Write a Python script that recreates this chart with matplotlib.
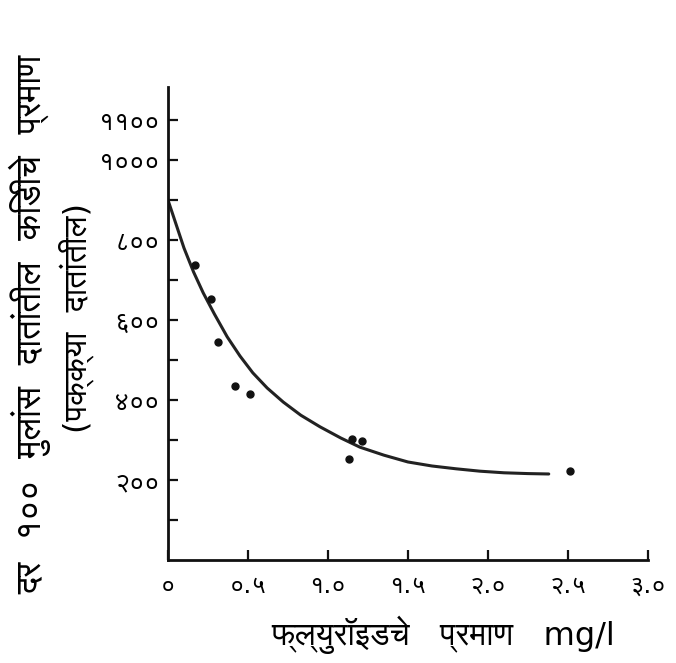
#!/usr/bin/env python3

import matplotlib
matplotlib.use('Agg')
from matplotlib import pyplot as plt
from matplotlib import font_manager
from matplotlib.ft2font import FT2Font

# courbe tracée à la main
curve_x = [0, 0.05, 0.1, 0.16, 0.22, 0.29, 0.37, 0.45, 0.53, 0.62, 0.72, 0.83,
           0.95, 1.08, 1.2, 1.35, 1.5, 1.65, 1.8, 1.95, 2.1, 2.25, 2.38]
curve_y = [900, 840, 780, 720, 668, 615, 558, 510, 468, 430, 395, 362,
           333, 305, 282, 262, 245, 235, 228, 222, 218, 216, 215]

# points mesurés
pts_x = [0.17, 0.27, 0.31, 0.42, 0.51, 1.13, 1.15, 1.21, 2.51]
pts_y = [737, 652, 545, 435, 415, 252, 302, 297, 222]

xticks = [0, 0.5, 1.0, 1.5, 2.0, 2.5, 3.0]
xtick_labels = ['०', '०.५', '१.०', '१.५', '२.०', '२.५', '३.०']
yticks = [200, 400, 600, 800, 1000, 1100]
ytick_labels = ['२००', '४००', '६००', '८००', '१०००', '११००']

xlabel = 'फ्ल्युरॉइडचे   प्रमाण   mg/l'
ylabel1 = 'दर  १००  मुलांस  दातांतील  किडीचे  प्रमाण'
ylabel2 = '(पक्क्या  दातांतील)'


def find_families(ch):
	found = []
	for f in font_manager.fontManager.ttflist:
		try:
			if ord(ch) in FT2Font(f.fname).get_charmap() and f.name not in found:
				found.append(f.name)
		except Exception:
			pass
	# une police sans empattement de préférence
	found.sort(key=lambda n: ('Mono' in n, 'Sans' not in n))
	return found

deva = find_families('क')
plt.rcParams['font.family'] = ['DejaVu Sans'] + deva[:1]

fig = plt.figure(figsize=(6.76, 6.63), dpi=100)
ax = fig.add_axes([0.2485, 0.1554, 0.710, 0.713])

ax.plot(curve_x, curve_y, color='#222222', lw=2.2, solid_capstyle='round')
ax.plot(pts_x, pts_y, 'o', color='#111111', ms=5)

ax.set_xlim(0, 3.0)
ax.set_ylim(0, 1182)
ax.spines['top'].set_visible(False)
ax.spines['right'].set_visible(False)
for s in ('left', 'bottom'):
	ax.spines[s].set_linewidth(2)
	ax.spines[s].set_color('#111111')

ax.set_xticks(xticks)
ax.set_xticklabels(xtick_labels, fontsize=18)
ax.set_yticks(range(100, 1200, 100), minor=True)
ax.set_yticks(yticks)
ax.set_yticklabels(ytick_labels, fontsize=19)
ax.tick_params(axis='both', which='both', direction='in', length=7, width=1.6, color='#111111')
ax.tick_params(axis='x', pad=10)
ax.tick_params(axis='y', pad=6)

fig.text(0.045, 0.51, ylabel1, rotation=90, ha='center', va='center', fontsize=25)
fig.text(0.112, 0.52, ylabel2, rotation=90, ha='center', va='center', fontsize=23)
fig.text(0.655, 0.042, xlabel, ha='center', va='center', fontsize=23)

fig.savefig('out.png', dpi=100)
